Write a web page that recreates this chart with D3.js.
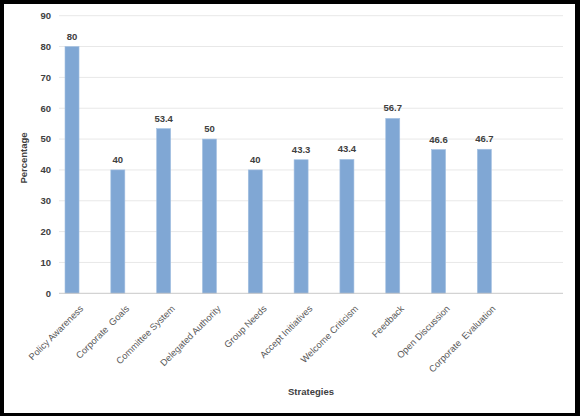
<!DOCTYPE html>
<html>
<head>
<meta charset="utf-8">
<script src="https://cdn.jsdelivr.net/npm/d3@7"></script>
<style>
  body { margin: 0; background: #000; }
  text { font-family: "Liberation Sans", Arial, sans-serif; white-space: pre; }
</style>
</head>
<body>
<svg id="chart" width="580" height="416"></svg>
<script>
// strategies and the share of respondents (%) for each
const categories = ["Policy Awareness", "Corporate  Goals", "Committee System", "Delegated Authority",
    "Group Needs", "Accept Initiatives", "Welcome Criticism", "Feedback", "Open Discussion", "Corporate  Evaluation"];
const values = [80, 40, 53.4, 50, 40, 43.3, 43.4, 56.7, 46.6, 46.7];
const labels = ["80", "40", "53.4", "50", "40", "43.3", "43.4", "56.7", "46.6", "46.7"];
const yTicks = [0, 10, 20, 30, 40, 50, 60, 70, 80, 90];

const svg = d3.select("#chart");

// black frame, white chart area
svg.append("rect").attr("width", 580).attr("height", 416).attr("fill", "#000");
svg.append("rect").attr("x", 4).attr("y", 4).attr("width", 571).attr("height", 409)
    .attr("fill", "#fff");

// one empty slot at the end, like the original sheet
let x = d3.scaleBand().domain(categories.concat([""])).range([59, 563]);
let y = d3.scaleLinear().domain([0, 90]).range([293.3, 15.7]);
let bw = x.bandwidth();

// gridlines
svg.append("g").selectAll("line")
    .data(yTicks.slice(1))
    .enter().append("line")
    .attr("x1", 59).attr("x2", 563)
    .attr("y1", d => y(d)).attr("y2", d => y(d))
    .attr("stroke", "#e8e8e8").attr("stroke-width", 1);

// y tick labels
svg.append("g").selectAll("text")
    .data(yTicks)
    .enter().append("text")
    .attr("x", 51)
    .attr("y", d => y(d))
    .attr("dy", "0.35em")
    .attr("text-anchor", "end")
    .attr("font-size", 9.5)
    .attr("font-weight", "bold")
    .attr("fill", "#404040")
    .text(d => d);

// bars (sit left in each slot, as in a two-series cluster)
svg.append("g").selectAll("rect")
    .data(values)
    .enter().append("rect")
    .attr("x", (d, i) => x(categories[i]) + bw * 0.131)
    .attr("width", bw * 0.306)
    .attr("y", d => y(d))
    .attr("height", d => y(0) - y(d))
    .attr("fill", "#80a7d4")
    .attr("stroke", "#a3c0e2").attr("stroke-width", 0.6);

// data labels
svg.append("g").selectAll("text")
    .data(values)
    .enter().append("text")
    .attr("x", (d, i) => x(categories[i]) + bw * 0.284)
    .attr("y", d => y(d) - 7)
    .attr("text-anchor", "middle")
    .attr("font-size", 9.5)
    .attr("font-weight", "bold")
    .attr("fill", "#404040")
    .text((d, i) => labels[i]);

// x axis line
svg.append("line")
    .attr("x1", 59).attr("x2", 563)
    .attr("y1", y(0)).attr("y2", y(0))
    .attr("stroke", "#c8c8c8").attr("stroke-width", 1);

// category labels, rotated
svg.append("g").selectAll("text")
    .data(categories)
    .enter().append("text")
    .attr("transform", d => "translate(" + (x(d) + bw / 2 + 2) + "," + (y(0) + 16) + ") rotate(-45)")
    .attr("text-anchor", "end")
    .attr("font-size", 9.3)
    .attr("fill", "#595959")
    .text(d => d);

// axis titles
svg.append("text")
    .attr("transform", "translate(27,158) rotate(-90)")
    .attr("text-anchor", "middle")
    .attr("font-size", 9.5)
    .attr("font-weight", "bold")
    .attr("fill", "#404040")
    .text("Percentage");

svg.append("text")
    .attr("x", 311).attr("y", 395)
    .attr("text-anchor", "middle")
    .attr("font-size", 9.5)
    .attr("font-weight", "bold")
    .attr("fill", "#404040")
    .text("Strategies");
</script>
</body>
</html>
